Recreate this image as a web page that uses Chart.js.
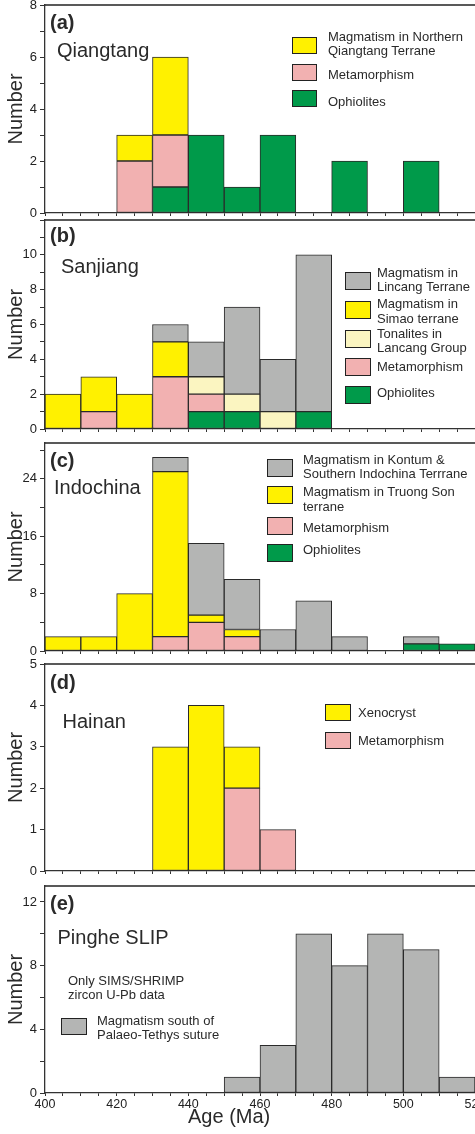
<!DOCTYPE html>
<html>
<head>
<meta charset="utf-8">
<script src="https://cdn.jsdelivr.net/npm/chart.js@4.4.1/dist/chart.umd.min.js"></script>
<style>
body { margin: 0; background: #fff; }
#wrap { position: relative; width: 475px; height: 1134px; overflow: hidden; font-family: "Liberation Sans", Arial, sans-serif; color: #2a2a2a; }
canvas { position: absolute; left: 0; }
.txt { position: absolute; white-space: pre; z-index: 5; }
.sw { position: absolute; border: 1px solid #222; box-sizing: border-box; z-index: 5; }
</style>
</head>
<body>
<div id="wrap"></div>
<script>
// lower edge of each 10 Ma bin
var binStarts = [400, 410, 420, 430, 440, 450, 460, 470, 480, 490, 500, 510];

// (a) Qiangtang
var qtOphiolites   = [0, 0, 0, 1, 3, 1, 3, 0, 2, 0, 2, 0];
var qtMetamorphism = [0, 0, 2, 2, 0, 0, 0, 0, 0, 0, 0, 0];
var qtMagmatism    = [0, 0, 1, 3, 0, 0, 0, 0, 0, 0, 0, 0];

// (b) Sanjiang
var sjOphiolites   = [0, 0, 0, 0, 1, 1, 0, 1, 0, 0, 0, 0];
var sjMetamorphism = [0, 1, 0, 3, 1, 0, 0, 0, 0, 0, 0, 0];
var sjTonalites    = [0, 0, 0, 0, 1, 1, 1, 0, 0, 0, 0, 0];
var sjSimao        = [2, 2, 2, 2, 0, 0, 0, 0, 0, 0, 0, 0];
var sjLincang      = [0, 0, 0, 1, 2, 5, 3, 9, 0, 0, 0, 0];

// (c) Indochina
var icOphiolites   = [0, 0, 0, 0, 0, 0, 0, 0, 0, 0, 1, 1];
var icMetamorphism = [0, 0, 0, 2, 4, 2, 0, 0, 0, 0, 0, 0];
var icTruongSon    = [2, 2, 8, 23, 1, 1, 0, 0, 0, 0, 0, 0];
var icKontum       = [0, 0, 0, 2, 10, 7, 3, 7, 2, 0, 1, 0];

// (d) Hainan
var hnMetamorphism = [0, 0, 0, 0, 0, 2, 1, 0, 0, 0, 0, 0];
var hnXenocryst    = [0, 0, 0, 3, 4, 1, 0, 0, 0, 0, 0, 0];

// (e) Pinghe SLIP
var phMagmatism    = [0, 0, 0, 0, 0, 1, 3, 10, 8, 10, 9, 1];

var cGreen = '#009a4a', cPink = '#f2b1b1', cYellow = '#fff100', cPale = '#fbf5c1', cGrey = '#b4b5b4';

Chart.defaults.font.family = '"Liberation Sans", Arial, sans-serif';

var wrap = document.getElementById('wrap');

// trait du haut de chaque cadre
var topLine = {
    id: 'topLine',
    afterDraw: function(chart) {
        var a = chart.chartArea, c = chart.ctx;
        c.save();
        c.strokeStyle = '#222';
        c.lineWidth = 1.3;
        c.beginPath();
        c.moveTo(a.left, a.top);
        c.lineTo(a.right, a.top);
        c.stroke();
        c.restore();
    }
};

var panels = [
    { top: 5, bottom: 213, max: 8, step: 1, every: 2, labMax: 8,
      sets: [['Ophiolites', qtOphiolites, cGreen], ['Metamorphism', qtMetamorphism, cPink], ['Magmatism in Northern Qiangtang Terrane', qtMagmatism, cYellow]] },
    { top: 220, bottom: 429, max: 12, step: 1, every: 2, labMax: 10,
      sets: [['Ophiolites', sjOphiolites, cGreen], ['Metamorphism', sjMetamorphism, cPink], ['Tonalites in Lancang Group', sjTonalites, cPale], ['Magmatism in Simao terrane', sjSimao, cYellow], ['Magmatism in Lincang Terrane', sjLincang, cGrey]] },
    { top: 443, bottom: 651, max: 29, step: 4, every: 8, labMax: 24,
      sets: [['Ophiolites', icOphiolites, cGreen], ['Metamorphism', icMetamorphism, cPink], ['Magmatism in Truong Son terrane', icTruongSon, cYellow], ['Magmatism in Kontum & Southern Indochina Terrrane', icKontum, cGrey]] },
    { top: 664, bottom: 871, max: 5, step: 1, every: 1, labMax: 5,
      sets: [['Metamorphism', hnMetamorphism, cPink], ['Xenocryst', hnXenocryst, cYellow]] },
    { top: 886, bottom: 1093, max: 13, step: 2, every: 4, labMax: 12,
      sets: [['Magmatism south of Palaeo-Tethys suture', phMagmatism, cGrey]] }
];

function makePanel(p, last) {
    var padTop = Math.min(10, p.top);
    var xH = last ? 41 : 8;
    var cv = document.createElement('canvas');
    cv.width = 475;
    cv.height = padTop + (p.bottom - p.top) + xH;
    cv.style.top = (p.top - padTop) + 'px';
    wrap.appendChild(cv);

    var datasets = p.sets.map(function(s) {
        return {
            label: s[0],
            data: s[1].map(function(v, i) { return { x: binStarts[i] + 5, y: v > 0 ? v : null }; }),
            backgroundColor: s[2],
            borderColor: '#2a2a2a',
            borderWidth: 1,
            borderSkipped: false,
            barThickness: 'flex',
            barPercentage: 1,
            categoryPercentage: 1
        };
    });

    new Chart(cv.getContext('2d'), {
        type: 'bar',
        data: { datasets: datasets },
        options: {
            responsive: false,
            animation: false,
            devicePixelRatio: 1,
            layout: { padding: { top: padTop, left: 0, right: 0, bottom: 0 } },
            plugins: { legend: { display: false }, tooltip: { enabled: false } },
            scales: {
                x: {
                    type: 'linear', min: 400, max: 520, offset: false, stacked: true,
                    grid: { drawOnChartArea: false, offset: false, tickLength: 3, color: '#333' },
                    border: { color: '#333', width: 1.3 },
                    ticks: {
                        stepSize: 5, autoSkip: false, maxRotation: 0, padding: 1, color: '#222',
                        font: { size: 12.5 },
                        callback: function(v) { return (last && v % 20 === 0) ? String(v) : ''; }
                    },
                    afterFit: function(s) { s.height = xH; s.paddingLeft = 0; s.paddingRight = 0; }
                },
                y: {
                    min: 0, max: p.max, stacked: true,
                    grid: { drawOnChartArea: false, tickLength: 5, color: '#333' },
                    border: { color: '#333', width: 1.3 },
                    ticks: {
                        stepSize: p.step, includeBounds: false, autoSkip: false, padding: 3, color: '#222',
                        font: { size: 13 },
                        callback: function(v) { return (v % p.every === 0 && v <= p.labMax) ? String(v) : ''; }
                    },
                    title: { display: true, text: 'Number', color: '#2a2a2a', font: { size: 20 }, padding: { top: 4, bottom: 4 } },
                    afterFit: function(s) { s.width = 45; s.paddingTop = 0; s.paddingBottom = 0; }
                }
            }
        },
        plugins: [topLine]
    });
}

panels.forEach(function(p, i) { makePanel(p, i === panels.length - 1); });

// textes
function addText(txt, x, cy, size, bold, lh) {
    lh = lh || Math.round(size * 1.1);
    var d = document.createElement('div');
    d.className = 'txt';
    d.textContent = txt;
    d.style.left = x + 'px';
    d.style.top = (cy - lh / 2) + 'px';
    d.style.fontSize = size + 'px';
    d.style.lineHeight = lh + 'px';
    if (bold) d.style.fontWeight = 'bold';
    wrap.appendChild(d);
}

function addSwatch(x, y, w, h, color) {
    var s = document.createElement('div');
    s.className = 'sw';
    s.style.left = x + 'px';
    s.style.top = y + 'px';
    s.style.width = w + 'px';
    s.style.height = h + 'px';
    s.style.background = color;
    wrap.appendChild(s);
}

// lettres et noms de régions
addText('(a)', 50, 21.7, 20, true);
addText('Qiangtang', 57, 49.5, 20);
addText('(b)', 50, 235, 20, true);
addText('Sanjiang', 61, 266, 20);
addText('(c)', 50, 460, 20, true);
addText('Indochina', 54, 487, 20);
addText('(d)', 50, 682, 20, true);
addText('Hainan', 62.5, 721, 20);
addText('(e)', 50, 902.5, 20, true);
addText('Pinghe SLIP', 57.5, 937, 20);
addText('Only SIMS/SHRIMP\nzircon U-Pb data', 68, 981, 13, false, 14.7);
addText('Age (Ma)', 188, 1116, 20);

// légendes : [x carré, x texte, largeur, hauteur, items]
var legends = [
    [292, 328, 25, 17, [[37, 36.7, 'Magmatism in Northern\nQiangtang Terrane', cYellow], [64, 75, 'Metamorphism', cPink], [90, 101.7, 'Ophiolites', cGreen]]],
    [345, 377, 26, 18, [[272, 272.7, 'Magmatism in\nLincang Terrane', cGrey], [301, 304.3, 'Magmatism in\nSimao terrane', cYellow], [330, 334, 'Tonalites in\nLancang Group', cPale], [357.7, 366.7, 'Metamorphism', cPink], [385.7, 393.3, 'Ophiolites', cGreen]]],
    [267, 303, 26, 18, [[459.3, 460, 'Magmatism in Kontum &\nSouthern Indochina Terrrane', cGrey], [486, 492.3, 'Magmatism in Truong Son\nterrane', cYellow], [516.7, 528.3, 'Metamorphism', cPink], [544.3, 550, 'Ophiolites', cGreen]]],
    [325, 358, 26, 17, [[704.3, 712.7, 'Xenocryst', cYellow], [731.7, 740.7, 'Metamorphism', cPink]]],
    [61, 97, 26, 17, [[1017.7, 1020.7, 'Magmatism south of\nPalaeo-Tethys suture', cGrey]]]
];

legends.forEach(function(l) {
    l[4].forEach(function(it) {
        addSwatch(l[0], it[0], l[2], l[3], it[3]);
        addText(it[2], l[1], it[1], 13, false, 14.4);
    });
});
</script>
</body>
</html>
